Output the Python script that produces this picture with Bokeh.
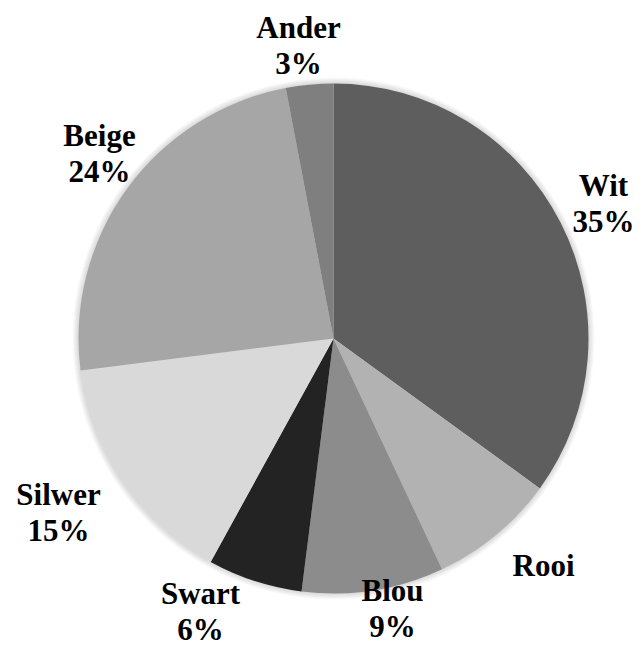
import math
from bokeh.plotting import figure
from bokeh.models import ColumnDataSource
from bokeh.core.properties import value
from bokeh.embed import file_html
from bokeh.resources import INLINE

# ---- data ----
categories = ["Wit", "Rooi", "Blou", "Swart", "Silwer", "Beige", "Ander"]
percents = [35, 8, 9, 6, 15, 24, 3]
show_percent = [True, False, True, True, True, True, True]
colors = ["#5e5e5e", "#b2b2b2", "#8c8c8c", "#232323", "#d9d9d9", "#a6a6a6", "#7f7f7f"]

# ---- layout ----
W, H = 644, 650
CX, CY = 333, H - 338   # pie centre in data (pixel) units
R = 255
LINE = 36
# label centre offsets from pie centre (px, y downwards)
label_offsets = [(270, -135), (210, 227), (59, 270), (-133, 273), (-275, 174), (-234, -185), (-35, -293)]

total = sum(percents)
starts, ends = [], []
cum = 0.0
for v in percents:
    a0 = math.pi / 2 - 2 * math.pi * cum / total
    cum += v
    a1 = math.pi / 2 - 2 * math.pi * cum / total
    starts.append(a0)
    ends.append(a1)

src = ColumnDataSource(dict(start=starts, end=ends, color=colors,
                            x=[CX] * len(categories), y=[CY] * len(categories)))

tx, ty, tt = [], [], []
for c, v, s, (dx, dy) in zip(categories, percents, show_percent, label_offsets):
    if s:
        tx += [CX + dx, CX + dx]
        ty += [CY - dy + LINE / 2, CY - dy - LINE / 2]
        tt += [c, f"{v}%"]
    else:
        tx.append(CX + dx)
        ty.append(CY - dy)
        tt.append(c)
lsrc = ColumnDataSource(dict(x=tx, y=ty, text=tt))

p = figure(width=W, height=H, x_range=(0, W), y_range=(0, H),
           output_backend="svg", toolbar_location=None, min_border=0)
p.axis.visible = False
p.grid.visible = False
p.outline_line_color = None
p.background_fill_color = "white"

# soft shadow around the pie
for i in range(1, 7):
    p.circle(x=[CX], y=[CY], radius=R + i, fill_color="#000000", fill_alpha=0.025, line_color=None)

p.wedge(x="x", y="y", radius=R, start_angle="start", end_angle="end",
        direction="clock", fill_color="color", line_color=None, source=src)

p.text(x="x", y="y", text="text", source=lsrc, text_align="center", text_baseline="middle",
       text_font=value("Liberation Serif"), text_font_style="bold",
       text_font_size="31px", text_color="#000000")

open("out.html", "w").write(file_html(p, INLINE))
